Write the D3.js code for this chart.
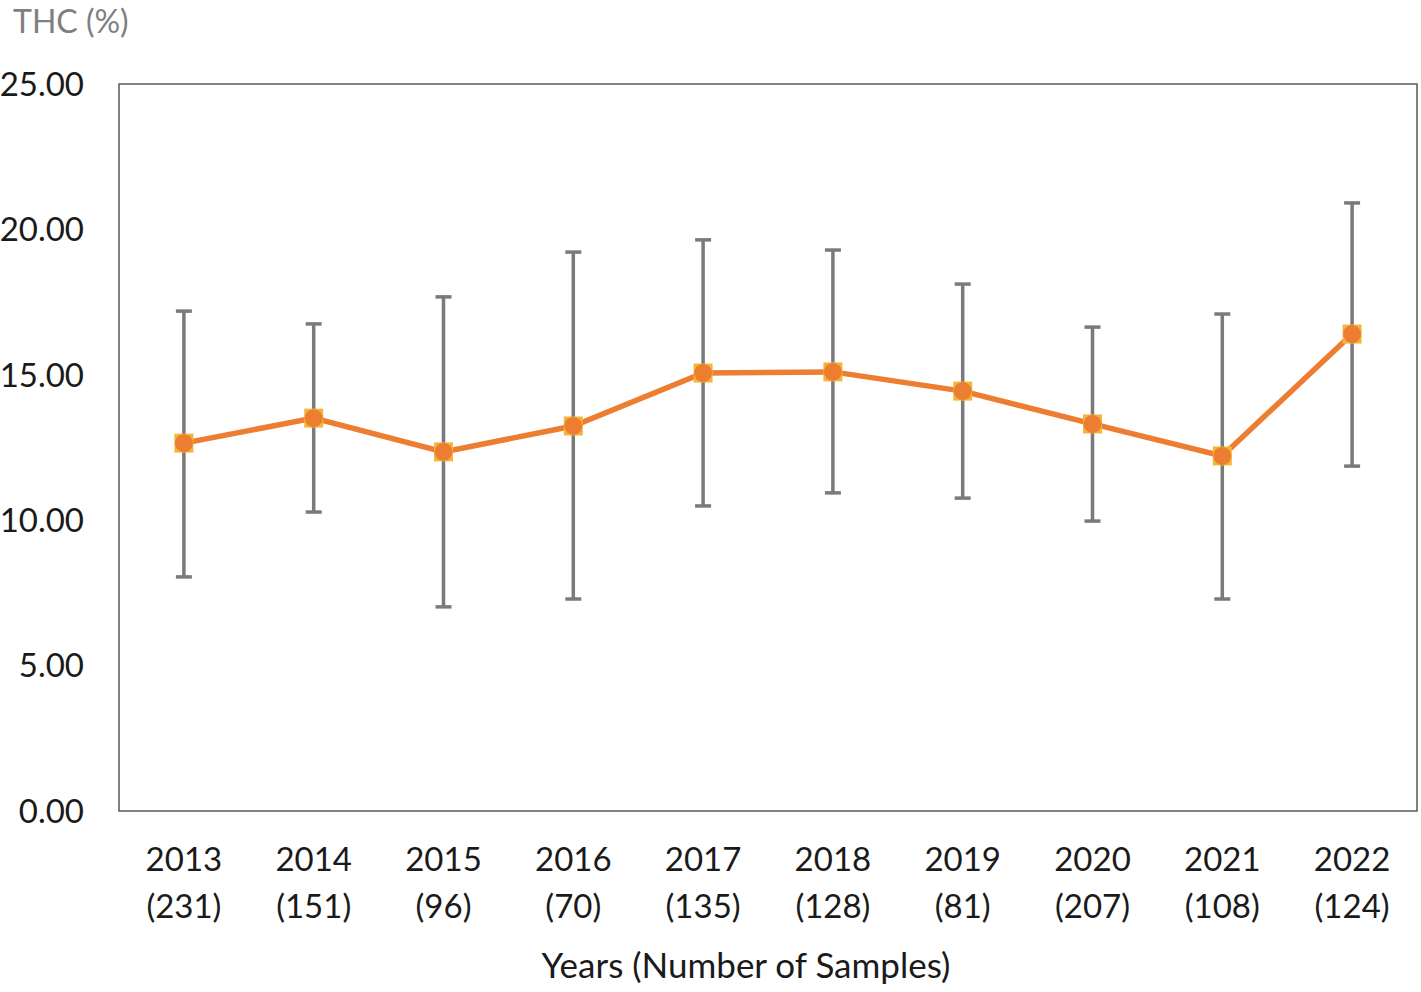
<!DOCTYPE html>
<html>
<head>
<meta charset="utf-8">
<script src="https://cdn.jsdelivr.net/npm/d3@7"></script>
<style>
  body { margin: 0; background: #fff; }
  svg text { font-family: Lato, "Open Sans", sans-serif; }
</style>
</head>
<body>
<svg id="chart" width="1421" height="992"></svg>
<script>
// values
var years = ["2013", "2014", "2015", "2016", "2017", "2018", "2019", "2020", "2021", "2022"];
var samples = [231, 151, 96, 70, 135, 128, 81, 207, 108, 124];
var meanThc = [12.65, 13.51, 12.35, 13.24, 15.06, 15.10, 14.44, 13.31, 12.21, 16.40];
var errHigh = [17.19, 16.75, 17.68, 19.22, 19.64, 19.29, 18.12, 16.64, 17.09, 20.91];
var errLow = [8.05, 10.28, 7.02, 7.29, 10.49, 10.94, 10.76, 9.97, 7.29, 11.86];
var yTicks = [0, 5, 10, 15, 20, 25];

var svg = d3.select("#chart");
var plotL = 119, plotR = 1417, plotT = 84, plotB = 811;

var x = d3.scaleBand().domain(years).range([plotL, plotR]);
var y = d3.scaleLinear().domain([0, 25]).range([plotB, plotT]);

var rows = years.map(function(d, i) {
  return {year: d, n: samples[i], v: meanThc[i], hi: errHigh[i], lo: errLow[i]};
});
function cx(d) { return x(d.year) + x.bandwidth() / 2; }

// frame
svg.append("rect")
  .attr("x", plotL).attr("y", plotT)
  .attr("width", plotR - plotL).attr("height", plotB - plotT)
  .attr("fill", "none").attr("stroke", "#404040").attr("stroke-width", 1.3);

// y tick labels
svg.selectAll(".ylab")
  .data(yTicks)
  .enter().append("text")
  .attr("class", "ylab")
  .attr("x", 84).attr("y", function(d) { return y(d); })
  .attr("dy", "0.36em")
  .attr("text-anchor", "end")
  .attr("font-size", 33)
  .attr("fill", "#1a1a1a")
  .text(function(d) { return d3.format(".2f")(d); });

// x labels, two lines
var xl = svg.selectAll(".xlab")
  .data(rows)
  .enter().append("text")
  .attr("class", "xlab")
  .attr("text-anchor", "middle")
  .attr("font-size", 33)
  .attr("fill", "#1a1a1a");
xl.append("tspan").attr("x", cx).attr("y", 871).text(function(d) { return d.year; });
xl.append("tspan").attr("x", cx).attr("y", 918).text(function(d) { return "(" + d.n + ")"; });

svg.append("text")
  .attr("x", 746).attr("y", 978)
  .attr("text-anchor", "middle")
  .attr("font-size", 35)
  .attr("fill", "#1a1a1a")
  .text("Years (Number of Samples)");

svg.append("text")
  .attr("x", 13).attr("y", 33)
  .attr("font-size", 32)
  .attr("fill", "#7f7f7f")
  .text("THC (%)");

// error bars
var eb = svg.selectAll(".err").data(rows).enter().append("g").attr("class", "err")
  .attr("stroke", "#7a7a7a").attr("stroke-width", 3.5);
eb.append("line")
  .attr("x1", cx).attr("x2", cx)
  .attr("y1", function(d) { return y(d.hi); })
  .attr("y2", function(d) { return y(d.lo); });
eb.append("line")
  .attr("x1", function(d) { return cx(d) - 8; }).attr("x2", function(d) { return cx(d) + 8; })
  .attr("y1", function(d) { return y(d.hi); }).attr("y2", function(d) { return y(d.hi); });
eb.append("line")
  .attr("x1", function(d) { return cx(d) - 8; }).attr("x2", function(d) { return cx(d) + 8; })
  .attr("y1", function(d) { return y(d.lo); }).attr("y2", function(d) { return y(d.lo); });

// line
svg.append("path")
  .datum(rows)
  .attr("fill", "none")
  .attr("stroke", "#ed7d31")
  .attr("stroke-width", 5.5)
  .attr("d", d3.line().x(cx).y(function(d) { return y(d.v); }));

// markers: yellow square under orange circle
svg.selectAll(".sq")
  .data(rows)
  .enter().append("rect")
  .attr("class", "sq")
  .attr("x", function(d) { return cx(d) - 9.5; })
  .attr("y", function(d) { return y(d.v) - 9.5; })
  .attr("width", 19).attr("height", 19)
  .attr("fill", "#f4b63a");
svg.selectAll(".dot")
  .data(rows)
  .enter().append("circle")
  .attr("class", "dot")
  .attr("cx", cx)
  .attr("cy", function(d) { return y(d.v); })
  .attr("r", 9)
  .attr("fill", "#ed7d31");
</script>
</body>
</html>
